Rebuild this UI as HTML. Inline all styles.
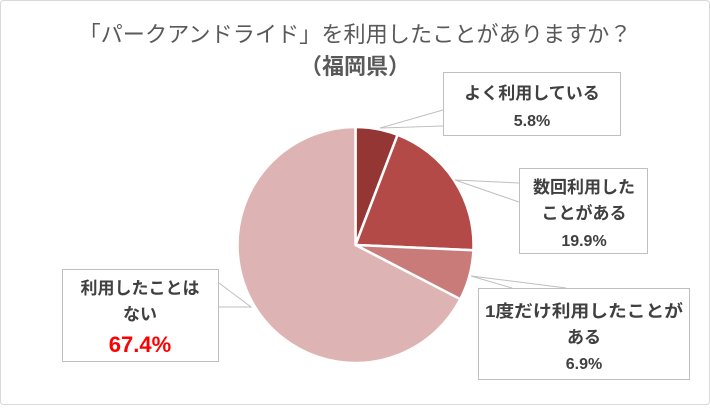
<!DOCTYPE html>
<html><head><meta charset="utf-8"><style>
body{margin:0;background:#fff}
svg text{font-family:"Liberation Sans","Noto Sans CJK JP",sans-serif}
</style></head><body>
<svg width="710" height="405" xmlns="http://www.w3.org/2000/svg">
<rect x="0.5" y="0.5" width="709" height="404" rx="3" fill="#fff" stroke="#d9d9d9"/>
<text x="355" y="42" text-anchor="middle" font-size="22" fill="#595959" textLength="553" lengthAdjust="spacingAndGlyphs">「パークアンドライド」を利用したことがありますか？</text>
<text x="355" y="74" text-anchor="middle" font-size="22" font-weight="bold" fill="#595959">（福岡県）</text>
<g stroke="#fff" stroke-width="2.5" stroke-linejoin="round">
<path d="M355.5,245 L355.5,127 A118,118 0 0 1 397.6,134.8 Z" fill="#943634"/>
<path d="M355.5,245 L397.6,134.8 A118,118 0 0 1 473.4,250.2 Z" fill="#b34a47"/>
<path d="M355.5,245 L473.4,250.2 A118,118 0 0 1 460.3,299.2 Z" fill="#c97b79"/>
<path d="M355.5,245 L460.3,299.2 A118,118 0 1 1 355.5,127 Z" fill="#ddb4b3"/>
</g>
<g stroke="#bfbfbf" fill="none" stroke-width="1">
<polyline points="443,110 380,128 443,126"/>
<polyline points="519,202 455,180 519,183"/>
<polyline points="512,288 471,276 566,288"/>
<polyline points="219,283 251,307 219,307"/>
<rect x="443.5" y="72.5" width="177" height="63" fill="#fff"/>
<rect x="519.5" y="168.5" width="128" height="85" fill="#fff"/>
<rect x="478.5" y="288.5" width="211" height="91" fill="#fff"/>
<rect x="62.5" y="269.5" width="156" height="92" fill="#fff"/>
</g>
<g font-size="17" font-weight="bold" fill="#404040" text-anchor="middle">
<text x="532" y="99">よく利用している</text>
<text x="532" y="126" font-size="16">5.8%</text>
<text x="584" y="193">数回利用した</text>
<text x="584" y="219">ことがある</text>
<text x="584" y="246" font-size="16">19.9%</text>
<text x="584" y="317" textLength="198" lengthAdjust="spacingAndGlyphs">1度だけ利用したことが</text>
<text x="584" y="343">ある</text>
<text x="584" y="369" font-size="16">6.9%</text>
<text x="140" y="294">利用したことは</text>
<text x="140" y="320">ない</text>
<text x="140" y="352" font-size="22" fill="#ff0000">67.4%</text>
</g>
</svg>
</body></html>
